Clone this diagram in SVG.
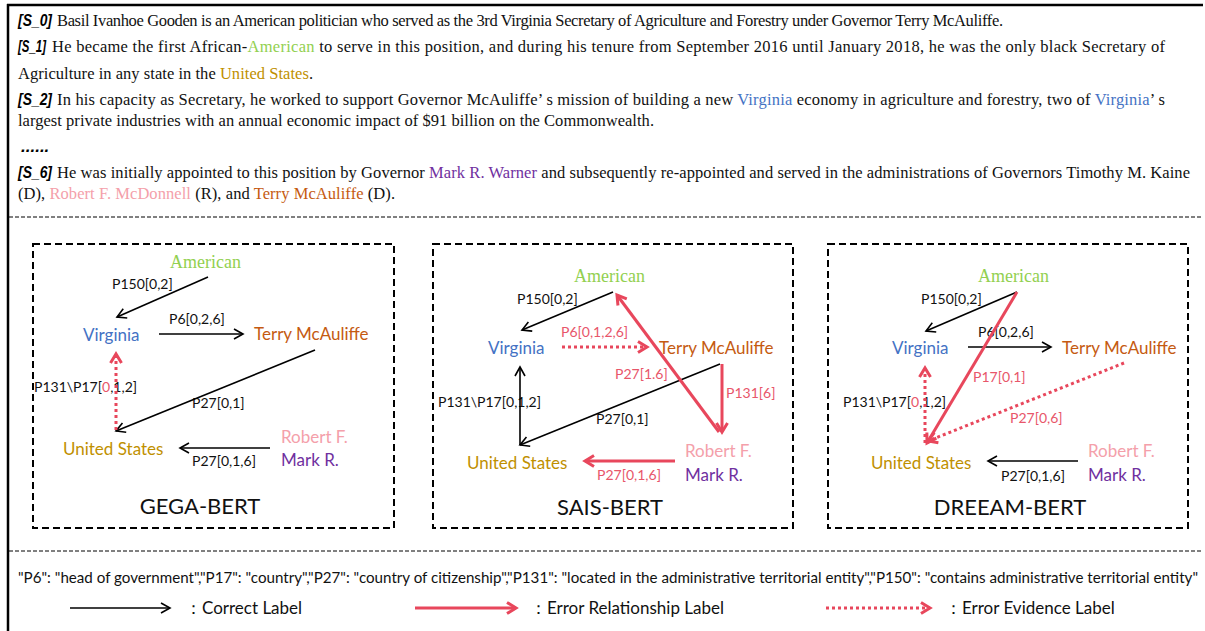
<svg xmlns="http://www.w3.org/2000/svg" width="1205" height="631" viewBox="0 0 1205 631">
<style>
.para{font-family:"Liberation Serif","Times New Roman",serif;font-size:16.5px;fill:#111}
.tag{font-family:"Liberation Sans",Arial,sans-serif;font-size:17px;font-weight:bold;font-style:italic;fill:#000}
.ent{font-family:Lato,"Liberation Sans",sans-serif;font-size:17px}
.amer{font-family:"Liberation Serif","Times New Roman",serif;font-size:18px;fill:#92d050}
.lbl{font-family:Lato,"Liberation Sans",sans-serif;font-size:14px;fill:#111}
.rl{fill:#e8566a}
.title{font-family:Lato,"Liberation Sans",sans-serif;font-size:22px;fill:#111;text-anchor:middle}
.leg{font-family:Lato,"Liberation Sans",sans-serif;font-size:15px;fill:#111}
.legb{font-family:Lato,"Liberation Sans",sans-serif;font-size:17px;fill:#111}
.vir{fill:#4472c4}.ter{fill:#c55a11}.us{fill:#bf9000}.rob{fill:#f4a0aa}.mar{fill:#7030a0}.ame{fill:#92d050}
.panel{fill:none;stroke:#000;stroke-width:2;stroke-dasharray:7 4}
.sep{stroke:#000;stroke-width:1;stroke-dasharray:4 2}
.blk{stroke:#000;stroke-width:1.6;fill:none;marker-end:url(#ab)}
.red{stroke:#e8475c;stroke-width:3;fill:none;marker-end:url(#ar)}
.dot{stroke:#e8475c;stroke-width:3;fill:none;stroke-dasharray:3 3;marker-end:url(#ar)}
</style>
<defs>
<marker id="ab" markerUnits="userSpaceOnUse" markerWidth="14" markerHeight="14" refX="10" refY="6" orient="auto"><path d="M1,1 L10,6 L1,11" fill="none" stroke="#000" stroke-width="1.6"/></marker>
<marker id="ar" markerUnits="userSpaceOnUse" markerWidth="16" markerHeight="16" refX="11" refY="7" orient="auto"><path d="M2,1.5 L11,7 L2,12.5" fill="none" stroke="#e8475c" stroke-width="3"/></marker>
</defs>
<rect width="1205" height="631" fill="#fff"/>
<g id="frame">
<line x1="7" y1="5" x2="1203" y2="5" stroke="#000" stroke-width="2.5"/>
<line x1="8" y1="4" x2="8" y2="631" stroke="#000" stroke-width="2.5"/>
<line class="sep" x1="9" y1="217" x2="1203" y2="217"/>
<line class="sep" x1="9" y1="551" x2="1203" y2="551"/>
</g>
<g id="paragraph">
<text class="tag" x="18" y="26" textLength="34" lengthAdjust="spacingAndGlyphs">[S_0]</text>
<text class="para" x="57" y="26" textLength="946" lengthAdjust="spacing">Basil Ivanhoe Gooden is an American politician who served as the 3rd Virginia Secretary of Agriculture and Forestry under Governor Terry McAuliffe.</text>
<text class="para" y="52"><tspan class="tag" x="18" textLength="28" lengthAdjust="spacingAndGlyphs">[S_1]</tspan><tspan x="52" textLength="1113" lengthAdjust="spacing">He became the first African-<tspan class="ame">American</tspan> to serve in this position, and during his tenure from September 2016 until January 2018, he was the only black Secretary of</tspan></text>
<text class="para" x="18" y="79" textLength="295" lengthAdjust="spacing">Agriculture in any state in the <tspan class="us">United States</tspan>.</text>
<text class="tag" x="18" y="105" textLength="34" lengthAdjust="spacingAndGlyphs">[S_2]</text>
<text class="para" x="57" y="105" textLength="1108" lengthAdjust="spacing">In his capacity as Secretary, he worked to support Governor McAuliffe’ s mission of building a new <tspan class="vir">Virginia</tspan> economy in agriculture and forestry, two of <tspan class="vir">Virginia</tspan>’ s</text>
<text class="para" x="18" y="126" textLength="636" lengthAdjust="spacing">largest private industries with an annual economic impact of $91 billion on the Commonwealth.</text>
<text class="tag" x="21" y="152">......</text>
<text class="tag" x="18" y="178" textLength="34" lengthAdjust="spacingAndGlyphs">[S_6]</text>
<text class="para" x="57" y="178" textLength="1133" lengthAdjust="spacing">He was initially appointed to this position by Governor <tspan class="mar">Mark R. Warner</tspan> and subsequently re-appointed and served in the administrations of Governors Timothy M. Kaine</text>
<text class="para" x="18" y="199" textLength="377" lengthAdjust="spacing">(D), <tspan class="rob">Robert F. McDonnell</tspan> (R), and <tspan class="ter">Terry McAuliffe</tspan> (D).</text>
</g>
<g id="panel-gega">
<rect class="panel" x="33" y="244" width="361" height="284"/>
<text class="amer" x="170" y="268">American</text>
<text class="ent vir" x="83" y="341">Virginia</text>
<text class="ent ter" x="254" y="340">Terry McAuliffe</text>
<text class="ent us" x="63" y="455">United States</text>
<text class="ent rob" x="281" y="443">Robert F.</text>
<text class="ent mar" x="281" y="466">Mark R.</text>
<text class="title" x="200" y="514">GEGA-BERT</text>
<text class="lbl" x="112" y="289">P150[0,2]</text>
<text class="lbl" x="169" y="324">P6[0,2,6]</text>
<text class="lbl" x="192" y="408">P27[0,1]</text>
<text class="lbl" x="34" y="392">P131\P17[<tspan class="rl">0</tspan>,1,2]</text>
<text class="lbl" x="192" y="466">P27[0,1,6]</text>
</g>
<g id="panel-sais">
<rect class="panel" x="433" y="244" width="360" height="284"/>
<text class="amer" x="574" y="282">American</text>
<text class="ent vir" x="488" y="354">Virginia</text>
<text class="ent ter" x="659" y="354">Terry McAuliffe</text>
<text class="ent us" x="467" y="469">United States</text>
<text class="ent rob" x="685" y="457">Robert F.</text>
<text class="ent mar" x="685" y="481">Mark R.</text>
<text class="title" x="610" y="515">SAIS-BERT</text>
<text class="lbl" x="517" y="304">P150[0,2]</text>
<text class="lbl rl" x="561" y="337">P6[0,1,2,6]</text>
<text class="lbl rl" x="615" y="379">P27[1.6]</text>
<text class="lbl rl" x="726" y="398">P131[6]</text>
<text class="lbl" x="596" y="424">P27[0,1]</text>
<text class="lbl" x="438" y="407">P131\P17[0,1,2]</text>
<text class="lbl rl" x="597" y="480">P27[0,1,6]</text>
</g>
<g id="panel-dreeam">
<rect class="panel" x="828" y="244" width="360" height="284"/>
<text class="amer" x="978" y="282">American</text>
<text class="ent vir" x="892" y="354">Virginia</text>
<text class="ent ter" x="1062" y="354">Terry McAuliffe</text>
<text class="ent us" x="871" y="469">United States</text>
<text class="ent rob" x="1088" y="457">Robert F.</text>
<text class="ent mar" x="1088" y="481">Mark R.</text>
<text class="title" x="1010" y="515">DREEAM-BERT</text>
<text class="lbl" x="921" y="304">P150[0,2]</text>
<text class="lbl" x="978" y="337">P6[0,2,6]</text>
<text class="lbl rl" x="973" y="382">P17[0,1]</text>
<text class="lbl" x="843" y="407">P131\P17[<tspan class="rl">0</tspan>,1,2]</text>
<text class="lbl rl" x="1010" y="423">P27[0,6]</text>
<text class="lbl" x="1001" y="481">P27[0,1,6]</text>
</g>
<g id="connectors">
<line class="blk" x1="208" y1="277" x2="117" y2="317"/>
<line class="blk" x1="159" y1="334" x2="243" y2="334"/>
<line class="blk" x1="315" y1="350" x2="116" y2="431"/>
<line class="dot" x1="116" y1="430" x2="116" y2="354"/>
<line class="blk" x1="270" y1="448" x2="180" y2="448"/>

<line class="blk" x1="613" y1="292" x2="522" y2="330"/>
<line class="dot" x1="562" y1="347" x2="647" y2="347"/>
<line class="blk" x1="720" y1="364" x2="520" y2="445"/>
<line class="blk" x1="520" y1="445" x2="520" y2="367"/>
<line class="red" x1="719" y1="432" x2="617" y2="295"/>
<line class="red" x1="722" y1="364" x2="722" y2="432"/>
<line class="red" x1="675" y1="461" x2="585" y2="461"/>

<line class="blk" x1="1017" y1="292" x2="926" y2="331"/>
<line class="blk" x1="968" y1="347" x2="1051" y2="347"/>
<line class="red" x1="1017" y1="292" x2="927" y2="443"/>
<line class="dot" x1="1124" y1="363" x2="928" y2="441"/>
<line class="dot" x1="925" y1="443" x2="925" y2="368"/>
<line class="blk" x1="1078" y1="461" x2="988" y2="461"/>
</g>
<g id="legend">
<text class="leg" x="18" y="583" textLength="1180" lengthAdjust="spacingAndGlyphs">"P6": "head of government","P17": "country","P27": "country of citizenship","P131": "located in the administrative territorial entity","P150": "contains administrative territorial entity"</text>
<line class="blk" x1="70" y1="608" x2="170" y2="608"/>
<text class="legb" x="185" y="614">：Correct Label</text>
<line class="red" x1="415" y1="608" x2="516" y2="608"/>
<text class="legb" x="530" y="614">：Error Relationship Label</text>
<line class="dot" x1="826" y1="608" x2="930" y2="608"/>
<text class="legb" x="945" y="614">：Error Evidence Label</text>
</g>
</svg>
